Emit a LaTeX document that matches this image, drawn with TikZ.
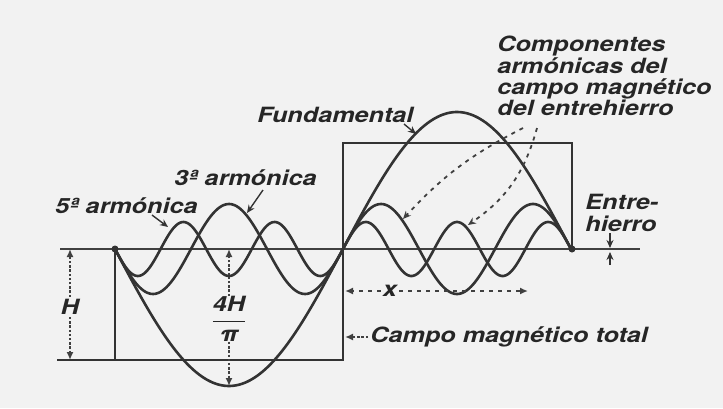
\documentclass[tikz,border=0pt]{standalone}
\usepackage{fontspec}
\newfontfamily\lblfont[FakeStretch=1.2]{TeX Gyre Heros}
\usetikzlibrary{arrows.meta,positioning}

\begin{document}
\begin{tikzpicture}[
  x=0.5pt, y=0.5pt,
  lbl/.style={font={\lblfont\bfseries\itshape\fontsize{10.5pt}{10.6pt}\selectfont}, text=black!85, inner sep=1pt},
  curve/.style={line width=1.3pt, black!80, line join=round},
  square/.style={line width=0.8pt, black!80},
  axisline/.style={line width=0.6pt, black!75},
  dimline/.style={line width=1pt, black!75, dash pattern=on 1.2pt off 0.9pt},
  dashline/.style={line width=0.9pt, black!75, dash pattern=on 2pt off 2.5pt},
  pointer/.style={line width=0.7pt, black!80, -{Stealth[length=4pt,width=3.5pt]}},
  dimtip/.style={-{Latex[length=4pt,width=3.5pt]}},
  dot/.style={circle, fill=black!80, inner sep=0pt, minimum size=3.5pt}
]
  \fill[black!5] (0,-159) rectangle (723,249);
  \useasboundingbox (0,-159) rectangle (723,249);

  \coordinate (axl) at (60,0);
  \coordinate (axr) at (640,0);
  \coordinate (start) at (115,0);
  \coordinate (mid) at (343,0);
  \coordinate (stop) at (572,0);
  \coordinate (botl) at (57,-111);

  \draw[axisline] (axl) -- (axr);
  \draw[square] (botl) -- (343,-111);
  \draw[square] (start) -- (115,-111) -- (343,-111) -- (343,106) -- (572,106) -- (stop);

  \draw[curve] plot[domain=115:572, samples=181, smooth] (\x, {-137*sin((\x-115)/228*180)});
  \draw[curve] plot[domain=115:572, samples=241, smooth] (\x, {-45*sin((\x-115)/228*540)});
  \draw[curve] plot[domain=115:572, samples=301, smooth] (\x, {-27*sin((\x-115)/228*900)});

  \node[dot] (d1) at (start) {};
  \node[dot] (d2) at (stop) {};

  \node[lbl, anchor=west] (fifth) at (53,43) {5ª armónica};
  \node[lbl, anchor=west] (third) at (172,71) {3ª armónica};
  \node[lbl, anchor=west] (fund) at (255,134) {Fundamental};
  \node[lbl, anchor=north west, align=left] (comp) at (495,215) {Componentes\\armónicas del\\campo magnético\\del entrehierro};
  \node[lbl, anchor=west, align=left] (gap) at (583,36) {Entre-\\hierro};
  \node[lbl, anchor=west] (total) at (368,-88) {Campo magnético total};
  \node[lbl, fill=black!5] (hlabel) at (70,-58) {H};
  \node[lbl, fill=black!5, inner sep=0pt] (frac) at (229,-70) {$\displaystyle\frac{\mbox{4H}}{\mbox{π}}$};
  \node[lbl, fill=black!5] (xlabel) at (390,-42) {x};

  \coordinate (p5s) at (152,34);
  \coordinate (p5) at (168,22);
  \coordinate (p3s) at (263,59);
  \coordinate (p3) at (247,36);
  \coordinate (p1s) at (404,125);
  \coordinate (p1) at (416,115);
  \coordinate (cs3) at (523,121);
  \coordinate (cs5) at (537,121);
  \coordinate (ct3) at (403,30);
  \coordinate (ct5) at (468,24);
  \coordinate (tot) at (345,-88);
  \coordinate (htop) at (70,0);
  \coordinate (hbot) at (70,-111);
  \coordinate (ftop) at (229,0);
  \coordinate (fbot) at (229,-137);
  \coordinate (xl) at (345,-42);
  \coordinate (xr) at (528,-42);
  \coordinate (g1s) at (610,16);
  \coordinate (g1) at (610,1);
  \coordinate (g2s) at (610,-16);
  \coordinate (g2) at (610,-3);

  \draw[pointer] (p5s) -- (p5);
  \draw[pointer] (p3s) -- (p3);
  \draw[pointer] (p1s) -- (p1);
  \draw[dashline, -{Stealth[length=4pt,width=3.5pt]}] (cs3) to[bend right=10] (ct3);
  \draw[dashline, -{Stealth[length=4pt,width=3.5pt]}] (cs5) to[bend left=20] (ct5);
  \draw[dimline, dimtip] (total.west) -- (tot);
  \draw[dimline, dimtip] (hlabel.north) -- (htop);
  \draw[dimline, dimtip] (hlabel.south) -- (hbot);
  \draw[dimline, dimtip] (frac.north) -- (ftop);
  \draw[dimline, dimtip] (frac.south) -- (fbot);
  \draw[dashline, dimtip] (xlabel.west) -- (xl);
  \draw[dashline, dimtip] (xlabel.east) -- (xr);
  \draw[pointer] (g1s) -- (g1);
  \draw[pointer] (g2s) -- (g2);
\end{tikzpicture}
\end{document}
